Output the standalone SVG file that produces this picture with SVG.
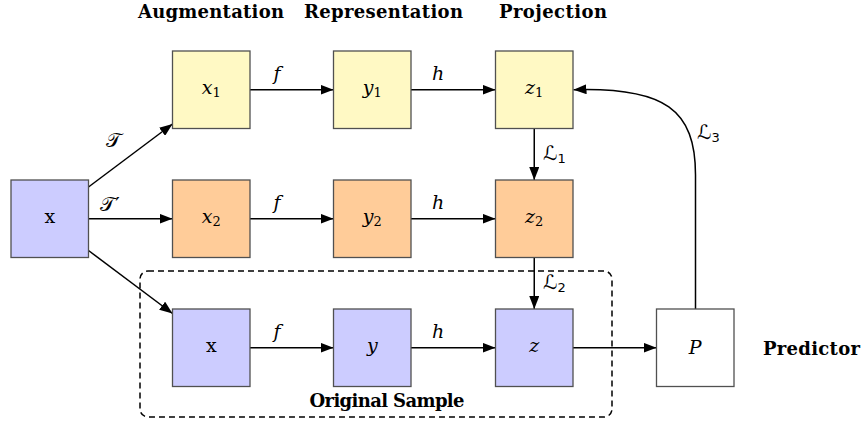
<svg xmlns="http://www.w3.org/2000/svg" width="863" height="421" viewBox="0 0 863 421">
<style>
.box{stroke:#505050;stroke-width:1.3}
.yel{fill:#FFF9C4}
.ora{fill:#FFCC99}
.blu{fill:#CCCCFF}
.wht{fill:#FFFFFF}
.conn{stroke:#000;stroke-width:1.5;fill:none}
.lbl{font-family:"DejaVu Serif","Liberation Serif",serif;font-style:italic;font-size:19px;fill:#000}
.rm{font-family:"DejaVu Serif","Liberation Serif",serif;font-size:19px;fill:#000}
.hd{font-family:"DejaVu Serif","Liberation Serif",serif;font-weight:bold;font-size:18px;fill:#000}
.sub{font-size:13px;font-style:normal}
.cal{font-family:"DejaVu Sans","DejaVu Serif",serif;font-size:20px;fill:#000}
</style>
<defs>
<marker id="ah" markerUnits="userSpaceOnUse" markerWidth="13" markerHeight="10" refX="13" refY="5" orient="auto">
<path d="M0,0 L13,5 L0,10 Z" fill="#000"/>
</marker>
</defs>
<rect width="863" height="421" fill="#fff"/>

<g id="headers">
<text class="hd" x="211" y="18" text-anchor="middle" textLength="146">Augmentation</text>
<text class="hd" x="383.5" y="18" text-anchor="middle" textLength="159">Representation</text>
<text class="hd" x="553" y="18" text-anchor="middle" textLength="108">Projection</text>
</g>

<g id="original-sample">
<rect x="140" y="271" width="472" height="146" rx="8" ry="8" fill="none" stroke="#000" stroke-width="1.5" stroke-dasharray="6,4"/>
<text class="hd" x="387" y="407" text-anchor="middle" font-size="17" textLength="155">Original Sample</text>
</g>

<g id="connectors">
<path class="conn" marker-end="url(#ah)" d="M88.5,187 L172.5,124"/>
<path class="conn" marker-end="url(#ah)" d="M88.5,218.75 L172.5,218.75"/>
<path class="conn" marker-end="url(#ah)" d="M88.5,250.5 L172.5,313.5"/>
<path class="conn" marker-end="url(#ah)" d="M250,89.75 L333.5,89.75"/>
<path class="conn" marker-end="url(#ah)" d="M411,89.75 L495.5,89.75"/>
<path class="conn" marker-end="url(#ah)" d="M250,218.75 L333.5,218.75"/>
<path class="conn" marker-end="url(#ah)" d="M411,218.75 L495.5,218.75"/>
<path class="conn" marker-end="url(#ah)" d="M250,347.75 L333.5,347.75"/>
<path class="conn" marker-end="url(#ah)" d="M411,347.75 L495.5,347.75"/>
<path class="conn" marker-end="url(#ah)" d="M534.25,128.5 L534.25,180"/>
<path class="conn" marker-end="url(#ah)" d="M534.25,257.5 L534.25,309"/>
<path class="conn" marker-end="url(#ah)" d="M573,347.75 L656.5,347.75"/>
<path class="conn" marker-end="url(#ah)" d="M695.5,309 L695.5,175 C695.5,110 665,87 573.5,89.75"/>
<text class="cal" x="113" y="147" text-anchor="middle">𝒯</text>
<text class="cal" x="110" y="211" text-anchor="middle">𝒯′</text>
<text class="lbl" x="277" y="80" text-anchor="middle">f</text>
<text class="lbl" x="438" y="80" text-anchor="middle">h</text>
<text class="lbl" x="277" y="209" text-anchor="middle">f</text>
<text class="lbl" x="438" y="209" text-anchor="middle">h</text>
<text class="lbl" x="277" y="338" text-anchor="middle">f</text>
<text class="lbl" x="438" y="338" text-anchor="middle">h</text>
<text class="cal" x="543" y="160">ℒ<tspan class="sub" dy="3">1</tspan></text>
<text class="cal" x="543" y="289">ℒ<tspan class="sub" dy="3">2</tspan></text>
<text class="cal" x="697" y="139">ℒ<tspan class="sub" dy="3">3</tspan></text>
</g>

<g id="node-x">
<rect class="box blu" x="11" y="180" width="77.5" height="77.5"/>
<text class="rm" x="49.75" y="223" text-anchor="middle">x</text>
</g>
<g id="node-x1">
<rect class="box yel" x="172.5" y="51" width="77.5" height="77.5"/>
<text class="lbl" x="211.25" y="94" text-anchor="middle">x<tspan class="sub" dy="3">1</tspan></text>
</g>
<g id="node-y1">
<rect class="box yel" x="333.5" y="51" width="77.5" height="77.5"/>
<text class="lbl" x="372.25" y="94" text-anchor="middle">y<tspan class="sub" dy="3">1</tspan></text>
</g>
<g id="node-z1">
<rect class="box yel" x="495.5" y="51" width="77.5" height="77.5"/>
<text class="lbl" x="534.25" y="94" text-anchor="middle">z<tspan class="sub" dy="3">1</tspan></text>
</g>
<g id="node-x2">
<rect class="box ora" x="172.5" y="180" width="77.5" height="77.5"/>
<text class="lbl" x="211.25" y="223" text-anchor="middle">x<tspan class="sub" dy="3">2</tspan></text>
</g>
<g id="node-y2">
<rect class="box ora" x="333.5" y="180" width="77.5" height="77.5"/>
<text class="lbl" x="372.25" y="223" text-anchor="middle">y<tspan class="sub" dy="3">2</tspan></text>
</g>
<g id="node-z2">
<rect class="box ora" x="495.5" y="180" width="77.5" height="77.5"/>
<text class="lbl" x="534.25" y="223" text-anchor="middle">z<tspan class="sub" dy="3">2</tspan></text>
</g>
<g id="node-xo">
<rect class="box blu" x="172.5" y="309" width="77.5" height="77.5"/>
<text class="rm" x="211.25" y="352" text-anchor="middle">x</text>
</g>
<g id="node-y">
<rect class="box blu" x="333.5" y="309" width="77.5" height="77.5"/>
<text class="lbl" x="372.25" y="352" text-anchor="middle">y</text>
</g>
<g id="node-z">
<rect class="box blu" x="495.5" y="309" width="77.5" height="77.5"/>
<text class="lbl" x="534.25" y="352" text-anchor="middle">z</text>
</g>
<g id="node-P">
<rect class="box wht" x="656.5" y="309" width="77.5" height="77.5"/>
<text class="lbl" x="695.25" y="354" text-anchor="middle">P</text>
<text class="hd" x="763" y="355" textLength="97">Predictor</text>
</g>
</svg>
